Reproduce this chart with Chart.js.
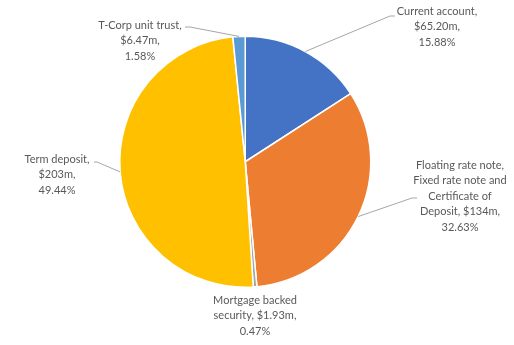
<!DOCTYPE html>
<html>
<head>
<meta charset="utf-8">
<script src="https://cdn.jsdelivr.net/npm/chart.js@4"></script>
<style>
  html, body { margin: 0; padding: 0; background: #fff; }
  #wrap { width: 514px; height: 345px; }
</style>
</head>
<body>
<div id="wrap"><canvas id="pie" width="514" height="345"></canvas></div>
<script>
var categories = [
  "Current account",
  "Floating rate note, Fixed rate note and Certificate of Deposit",
  "Mortgage backed security",
  "Term deposit",
  "T-Corp unit trust",
];
var values = [65.20, 134, 1.93, 203, 6.47];
var valueLabels = ["$65.20m", "$134m", "$1.93m", "$203m", "$6.47m"];
var percentLabels = ["15.88%", "32.63%", "0.47%", "49.44%", "1.58%"];
var colors = ["#4472C4", "#ED7D31", "#A5A5A5", "#FFC000", "#5B9BD5"];

// label placement: centre x, first line y, words per line, leader elbow and end
var labelLayout = [
  { x: 437, y: 11, words: [2, 1, 1], elbow: [390, 16], end: [395, 16] },
  { x: 460, y: 165, words: [3, 4, 2, 2, 1], elbow: [412, 198], end: [417, 198] },
  { x: 255, y: 300, words: [2, 2, 1], elbow: null, end: null },
  { x: 57, y: 159, words: [2, 1, 1], elbow: [97, 162], end: [94, 162] },
  { x: 140, y: 25, words: [3, 1, 1], elbow: [190, 27], end: [185, 27] },
];

var FONT = "11px Lato, 'Noto Sans', sans-serif";
var LINE_H = 15.5;

function splitLines(text, counts) {
  var words = text.split(" ");
  var lines = [];
  var pos = 0;
  counts.forEach(function (n) {
    lines.push(words.slice(pos, pos + n).join(" "));
    pos += n;
  });
  return lines;
}

var pieLabels = {
  id: "pieLabels",
  afterDraw: function (chart) {
    var ctx = chart.ctx;
    var meta = chart.getDatasetMeta(0);
    ctx.save();
    ctx.font = FONT;
    meta.data.forEach(function (arc, i) {
      var lay = labelLayout[i];
      var mid = (arc.startAngle + arc.endAngle) / 2;
      var sx = arc.x + Math.cos(mid) * arc.outerRadius;
      var sy = arc.y + Math.sin(mid) * arc.outerRadius;
      if (lay.elbow) {
        ctx.strokeStyle = "#A6A6A6";
        ctx.lineWidth = 1;
        ctx.beginPath();
        ctx.moveTo(sx, sy);
        ctx.lineTo(lay.elbow[0], lay.elbow[1]);
        ctx.lineTo(lay.end[0], lay.end[1]);
        ctx.stroke();
      }
      var text = categories[i] + ", " + valueLabels[i] + ", " + percentLabels[i];
      var lines = splitLines(text, lay.words);
      ctx.fillStyle = "#595959";
      ctx.textAlign = "center";
      ctx.textBaseline = "middle";
      lines.forEach(function (ln, k) {
        ctx.fillText(ln, lay.x, lay.y + k * LINE_H);
      });
    });
    ctx.restore();
  },
};

var ctx = document.getElementById("pie").getContext("2d");
var chart = new Chart(ctx, {
  type: "pie",
  data: {
    labels: categories,
    datasets: [
      {
        data: values,
        backgroundColor: colors,
        borderColor: "#ffffff",
        borderWidth: 1.5,
      },
    ],
  },
  options: {
    responsive: false,
    animation: false,
    layout: { padding: { left: 119, right: 142.5, top: 35.5, bottom: 57 } },
    plugins: {
      legend: { display: false },
      tooltip: { enabled: false },
    },
  },
  plugins: [pieLabels],
});
</script>
</body>
</html>
